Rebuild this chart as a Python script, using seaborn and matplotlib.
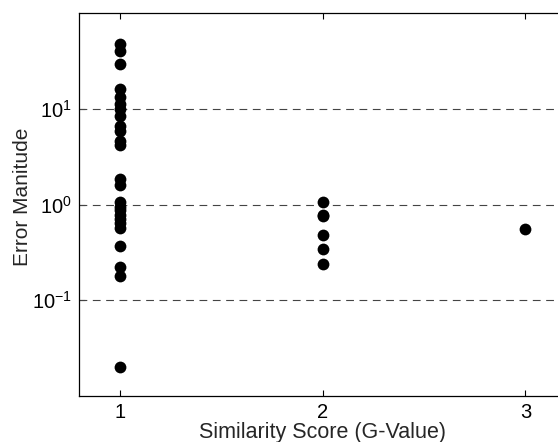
import matplotlib
matplotlib.use("Agg")
import matplotlib.pyplot as plt
import matplotlib.ticker as mticker
import seaborn as sns
import pandas as pd

# Data
g1_values = [47.0, 40.5, 29.0, 16.2, 13.2, 11.3, 10.0, 8.5, 6.6, 5.8, 4.6, 4.2,
             1.85, 1.6, 1.05, 0.95, 0.88, 0.78, 0.70, 0.64, 0.57, 0.37, 0.22, 0.18, 0.020]
g2_values = [1.05, 0.78, 0.75, 0.48, 0.34, 0.24]
g3_values = [0.55]
x_ticks = [1, 2, 3]
y_ticks = [0.1, 1, 10]

df = pd.DataFrame({
    "score": [1] * len(g1_values) + [2] * len(g2_values) + [3] * len(g3_values),
    "error": g1_values + g2_values + g3_values,
})

sns.set_style("ticks")
plt.rcParams["font.family"] = ["Liberation Sans", "DejaVu Sans"]
plt.rcParams["mathtext.default"] = "regular"
plt.rcParams["axes.unicode_minus"] = False

fig = plt.figure(figsize=(5.58, 4.42), dpi=100)
ax = fig.add_axes([79 / 558, 46 / 442, 487 / 558, 383 / 442])

sns.scatterplot(data=df, x="score", y="error", ax=ax, color="black", s=72,
                edgecolor="black", linewidth=0, zorder=3)

ax.set_yscale("log")
ax.set_xlim(0.8, 3.2)
ax.set_ylim(0.01, 100)
ax.set_xticks(x_ticks)
ax.set_yticks(y_ticks)
ax.yaxis.set_minor_locator(mticker.NullLocator())
ax.yaxis.set_major_formatter(mticker.LogFormatterSciNotation())

for yv in y_ticks:
    ax.axhline(yv, color="#444444", linestyle=(0, (7, 5)), linewidth=0.8, zorder=1)

ax.tick_params(direction="in", length=4, width=0.8, labelsize=14.5, colors="black",
               top=True, right=True, pad=5)
for side in ["left", "bottom", "top", "right"]:
    ax.spines[side].set_linewidth(0.9)
    ax.spines[side].set_color("black")

ax.set_xlabel("Similarity Score (G-Value)", fontsize=15.5, labelpad=0)
ax.set_ylabel("Error Manitude", fontsize=15)
ax.yaxis.set_label_coords(-0.097, 0.52)

fig.savefig("out.png", dpi=100)
